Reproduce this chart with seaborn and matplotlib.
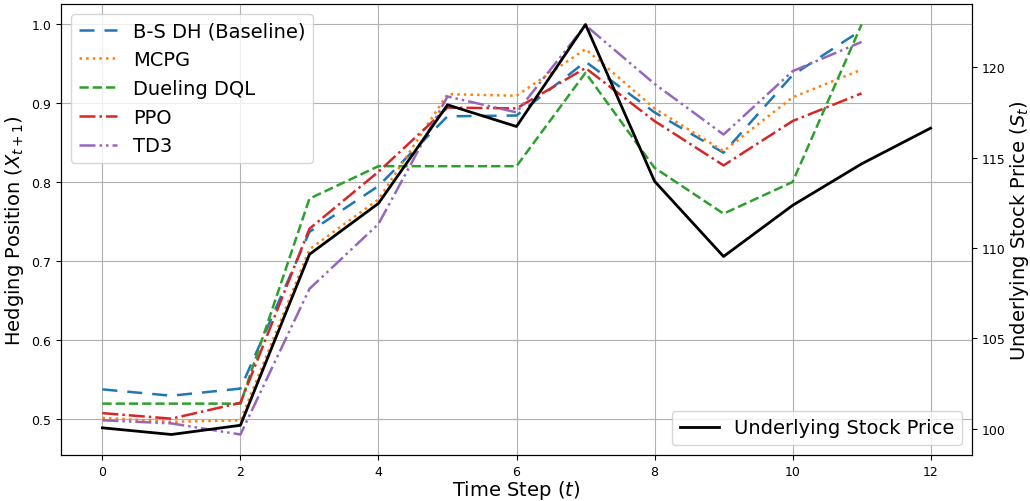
import numpy as np
import pandas as pd
import matplotlib
matplotlib.use("Agg")
import matplotlib.pyplot as plt
import seaborn as sns

time_steps = list(range(13))
hedge_steps = list(range(12))

bs_dh = [0.538, 0.530, 0.539, 0.737, 0.795, 0.883, 0.884, 0.952, 0.888, 0.837, 0.935, 0.992]
mcpg = [0.502, 0.497, 0.499, 0.715, 0.778, 0.911, 0.909, 0.968, 0.893, 0.839, 0.907, 0.942]
dueling_dql = [0.520, 0.520, 0.520, 0.779, 0.820, 0.820, 0.820, 0.938, 0.818, 0.760, 0.800, 0.999]
ppo = [0.508, 0.501, 0.521, 0.741, 0.813, 0.894, 0.893, 0.944, 0.877, 0.821, 0.877, 0.912]
td3 = [0.499, 0.495, 0.481, 0.665, 0.747, 0.908, 0.888, 0.998, 0.924, 0.860, 0.940, 0.977]

stock_price = [100.04, 99.67, 100.18, 109.65, 112.47, 117.93, 116.73, 122.38,
               113.70, 109.53, 112.36, 114.66, 116.64]

series_names = ["B-S DH (Baseline)", "MCPG", "Dueling DQL", "PPO", "TD3"]
series_values = [bs_dh, mcpg, dueling_dql, ppo, td3]
series_colors = ["#1f77b4", "#ff7f0e", "#2ca02c", "#d62728", "#9467bd"]
series_styles = [(0, (6, 4)), ":", "--", "-.", (0, (6.4, 1.6, 1, 1.6, 1, 1.6))]

fig = plt.figure(figsize=(10.3, 5.02), dpi=100)
ax1 = fig.add_axes([61 / 1030, 1 - 456 / 502, (972 - 61) / 1030, (456 - 5) / 502])

for name, vals, col, ls in zip(series_names, series_values, series_colors, series_styles):
    df = pd.DataFrame({"t": hedge_steps, "v": vals})
    sns.lineplot(data=df, x="t", y="v", ax=ax1, color=col, linestyle=ls,
                 linewidth=1.8, label=name)

ax1.set_xlabel("Time Step ($t$)", fontsize=14, labelpad=0)
ax1.set_ylabel("Hedging Position ($X_{t+1}$)", fontsize=14)
ax1.grid(True, color="#b0b0b0", linewidth=0.8)
ax1.set_xticks([0, 2, 4, 6, 8, 10, 12])
ax1.tick_params(labelsize=9)
leg1 = ax1.legend(loc="upper left", fontsize=14)

ax2 = ax1.twinx()
df_s = pd.DataFrame({"t": time_steps, "s": stock_price})
sns.lineplot(data=df_s, x="t", y="s", ax=ax2, color="black", linewidth=2,
             label="Underlying Stock Price")
ax2.set_ylabel("Underlying Stock Price ($S_t$)", fontsize=14, labelpad=2)
ax2.set_xlabel("")
ax2.tick_params(labelsize=9)
ax2.set_yticks([100, 105, 110, 115, 120])
ax2.legend(loc="lower right", fontsize=14)

fig.savefig("out.png", dpi=100)
